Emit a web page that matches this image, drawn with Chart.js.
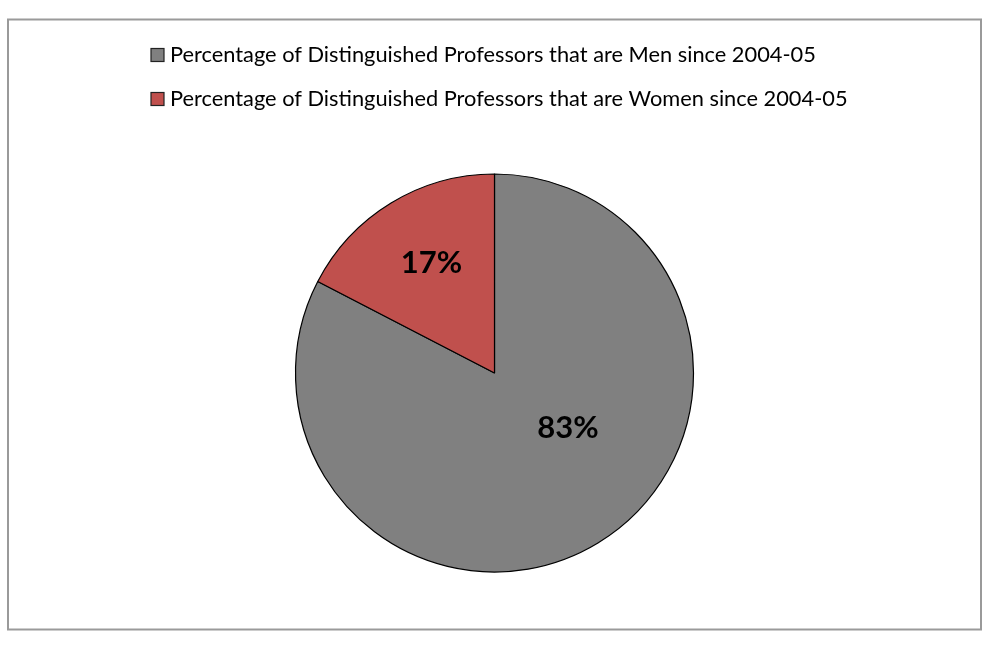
<!DOCTYPE html>
<html>
<head>
<meta charset="utf-8">
<script src="https://cdn.jsdelivr.net/npm/chart.js@4"></script>
<style>
  html, body { margin: 0; padding: 0; background: #fff; }
  #wrap { width: 1000px; height: 654px; position: relative; }
</style>
</head>
<body>
<div id="wrap"><canvas id="chart"></canvas></div>
<script>
const labels = [
  "Percentage of Distinguished Professors that are Men since 2004-05",
  "Percentage of Distinguished Professors that are Women since 2004-05"
];
const shares = [82.6, 17.4];
const colors = ["#808080", "#C0504D"];

// where each percent label sits, relative to its slice
const labelPlace = [
  { shift: -22, frac: 0.46 },
  { shift: 1.4, frac: 0.635 }
];

const frame = {
  id: "frame",
  beforeDraw(chart) {
    const ctx = chart.ctx;
    ctx.save();
    ctx.fillStyle = "#fff";
    ctx.fillRect(0, 0, chart.width, chart.height);
    ctx.strokeStyle = "#9a9a9a";
    ctx.lineWidth = 2;
    ctx.strokeRect(8, 19.5, 973, 610);
    ctx.restore();
  }
};

const legendList = {
  id: "legendList",
  afterDraw(chart) {
    const ctx = chart.ctx;
    const ds = chart.data.datasets[0];
    ctx.save();
    ctx.font = "21.8px Lato";
    ctx.textBaseline = "middle";
    chart.data.labels.forEach((lab, i) => {
      const y = 55 + i * 44;
      ctx.fillStyle = ds.backgroundColor[i];
      ctx.fillRect(151, y - 6.5, 13, 13);
      ctx.strokeStyle = "#222";
      ctx.lineWidth = 1.2;
      ctx.strokeRect(151, y - 6.5, 13, 13);
      ctx.fillStyle = "#000";
      ctx.fillText(lab, 170, y);
    });
    ctx.restore();
  }
};

const pctLabels = {
  id: "pctLabels",
  afterDatasetsDraw(chart) {
    const ctx = chart.ctx;
    const meta = chart.getDatasetMeta(0);
    ctx.save();
    ctx.font = "bold 31px Lato";
    ctx.fillStyle = "#000";
    ctx.textAlign = "center";
    ctx.textBaseline = "middle";
    meta.data.forEach((arc, i) => {
      const p = arc.getProps(["x", "y", "startAngle", "endAngle", "outerRadius"], true);
      const a = (p.startAngle + p.endAngle) / 2 + labelPlace[i].shift * Math.PI / 180;
      const r = p.outerRadius * labelPlace[i].frac;
      const txt = Math.round(chart.data.datasets[0].data[i]) + "%";
      ctx.fillText(txt, p.x + Math.cos(a) * r, p.y + Math.sin(a) * r);
    });
    ctx.restore();
  }
};

new Chart(document.getElementById("chart"), {
  type: "pie",
  data: {
    labels: labels,
    datasets: [{
      data: shares,
      backgroundColor: colors,
      borderColor: "#000",
      borderWidth: 1.2
    }]
  },
  options: {
    responsive: true,
    maintainAspectRatio: false,
    animation: false,
    radius: 199,
    layout: { padding: { top: 160, bottom: 68, left: 280, right: 291 } },
    plugins: {
      legend: { display: false },
      tooltip: { enabled: false }
    }
  },
  plugins: [frame, legendList, pctLabels]
});
</script>
</body>
</html>
